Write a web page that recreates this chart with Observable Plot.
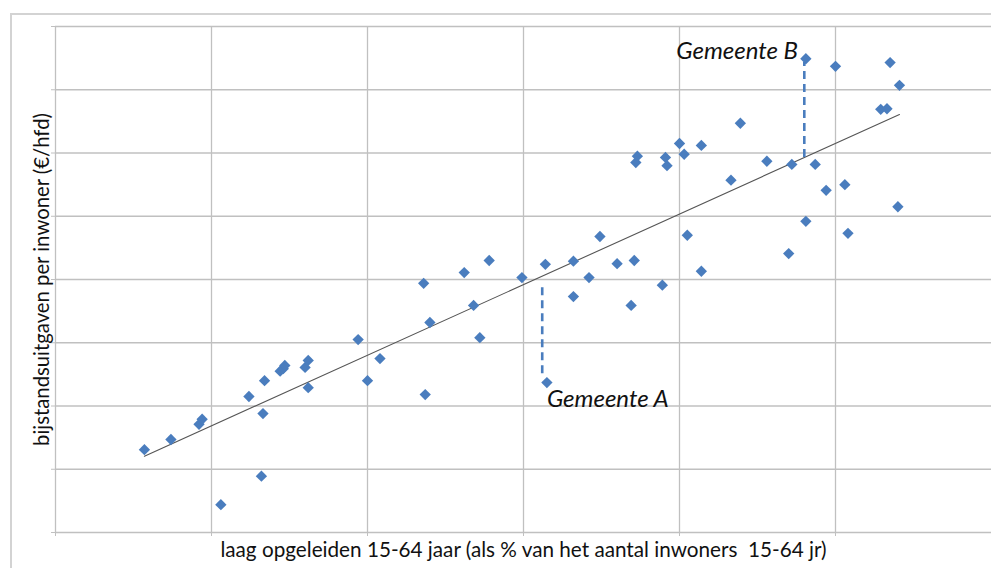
<!DOCTYPE html>
<html>
<head>
<meta charset="utf-8">
<script src="https://cdn.jsdelivr.net/npm/d3@7"></script>
<script src="https://cdn.jsdelivr.net/npm/@observablehq/plot@0.6"></script>
<style>
  html, body { margin: 0; padding: 0; background: #fff; overflow: hidden; width: 991px; height: 568px; }
  #frame { position: absolute; left: 10px; top: 13px; width: 1200px; height: 800px; border-left: 2px solid #d3d3d3; border-top: 2px solid #d3d3d3; box-sizing: border-box; }
  #chart { position: absolute; left: 0; top: 0; }
</style>
</head>
<body>
<div id="frame"></div>
<div id="chart"></div>
<script>
// % laag opgeleiden 15-64 jaar (x) en bijstandsuitgaven per inwoner (y)
const lowEducated = [5.7, 7.4, 9.2, 9.4, 10.6, 12.4, 13.2, 13.3, 13.4, 14.4, 14.6, 14.7, 16.0, 16.2, 16.2,
  19.4, 20.0, 20.8, 23.7, 23.6, 24.0, 26.2, 26.8, 27.2, 27.8, 29.9, 31.4, 31.5, 33.2, 33.2, 34.2, 34.9,
  36.0, 36.9, 37.1, 37.2, 37.3, 38.9, 39.1, 39.2, 40.0, 40.3, 40.5, 41.4, 41.4, 43.3, 43.9, 45.6, 47.0,
  47.2, 48.1, 48.1, 48.7, 49.4, 50.0, 50.6, 50.8, 52.9, 53.3, 53.5, 54.0, 54.1];
const assistance = [131, 147, 171, 179, 44, 215, 89, 188, 240, 255, 259, 264, 261, 272, 229,
  305, 240, 275, 218, 394, 332, 411, 359, 308, 430, 403, 424, 237, 429, 373, 403, 468,
  425, 359, 430, 585, 595, 391, 593, 580, 615, 598, 470, 413, 612, 557, 647, 587, 441,
  582, 749, 492, 582, 541, 737, 550, 473, 669, 670, 743, 515, 707];

// Verticale afstand tot de trendlijn voor twee gemeenten
const markerNames = ["Gemeente A", "Gemeente B"];
const markerX = [31.2, 48.0];
const markerFrom = [387, 593];
const markerTo = [243, 743];
const labelX = [31.5, 47.6];
const labelY = [198, 749];

const xTicks = [0, 10, 20, 30, 40, 50, 60];
const yTicks = [0, 100, 200, 300, 400, 500, 600, 700, 800];
const xTitle = "laag opgeleiden 15-64 jaar (als % van het aantal inwoners\u00a0 15-64 jr)";
const yTitle = "bijstandsuitgaven per inwoner (€/hfd)";

const points = lowEducated.map((x, i) => ({x, y: assistance[i]}));
const markers = markerNames.map((name, i) => ({name, x: markerX[i], y1: markerFrom[i], y2: markerTo[i],
  lx: labelX[i], ly: labelY[i]}));

const blue = "#4a7dbe";
const font = "Lato, 'Open Sans', sans-serif";

const chart = Plot.plot({
  width: 991,
  height: 568,
  marginLeft: 55,
  marginRight: 0,
  marginTop: 26,
  marginBottom: 36,
  style: {background: "transparent", fontFamily: font, overflow: "visible"},
  x: {domain: [0, 60], ticks: xTicks},
  y: {domain: [0, 800], ticks: yTicks},
  marks: [
    Plot.gridX(xTicks.slice(0, 6), {stroke: "#c0c0c0", strokeOpacity: 1, strokeWidth: 1.3}),
    Plot.gridY(yTicks, {stroke: "#c0c0c0", strokeOpacity: 1, strokeWidth: 1.3}),
    Plot.axisX(xTicks.slice(0, 6), {tickSize: 4, tickFormat: () => "", label: null, stroke: "#c0c0c0"}),
    Plot.axisY(yTicks, {tickSize: 4, tickFormat: () => "", label: null, stroke: "#c0c0c0"}),
    Plot.linearRegressionY(points, {x: "x", y: "y", ci: 0, stroke: "#555", strokeWidth: 1.1}),
    Plot.ruleX(markers, {x: "x", y1: "y1", y2: "y2", stroke: blue, strokeWidth: 2.6, strokeDasharray: "8,5"}),
    Plot.dot(points, {x: "x", y: "y", symbol: "diamond2", r: 5.1, fill: blue, stroke: "none"}),
    Plot.text(markers.filter(d => d.name === "Gemeente A"), {x: "lx", y: "ly", text: "name", textAnchor: "start", lineAnchor: "bottom",
      fontSize: 24, fontStyle: "italic", fill: "#111", fontFamily: font}),
    Plot.text(markers.filter(d => d.name === "Gemeente B"), {x: "lx", y: "ly", text: "name", textAnchor: "end", lineAnchor: "bottom",
      fontSize: 24, fontStyle: "italic", fill: "#111", fontFamily: font}),
    Plot.text([xTitle], {frameAnchor: "bottom", dy: 18, lineAnchor: "middle", fontSize: 20.7, fill: "#111", fontFamily: font}),
    Plot.text([yTitle], {frameAnchor: "left", textAnchor: "middle", lineAnchor: "middle", rotate: -90, dx: -13, fontSize: 20.3, fill: "#111", fontFamily: font})
  ]
});
document.getElementById("chart").appendChild(chart);
</script>
</body>
</html>
